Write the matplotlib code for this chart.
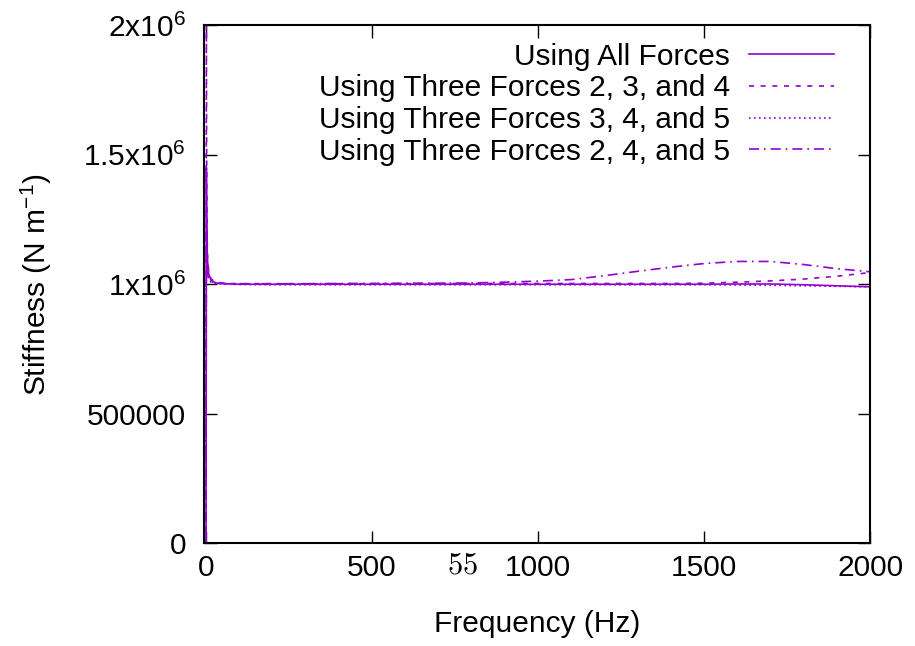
import matplotlib
matplotlib.use('Agg')
import matplotlib.pyplot as plt

plt.rcParams['font.family'] = ['Liberation Sans', 'DejaVu Sans']
plt.rcParams['mathtext.fontset'] = 'custom'
plt.rcParams['mathtext.rm'] = 'Liberation Sans'
plt.rcParams['mathtext.it'] = 'Liberation Sans'

# frequency samples (Hz)
freq = [0, 1, 2, 4, 8, 15, 30, 60, 100, 200, 300, 400, 500, 600, 700, 800,
        900, 1000, 1100, 1200, 1300, 1400, 1500, 1600, 1700, 1800, 1900, 2000]

# stiffness (N/m)
all_forces = [0, 1.45e6, 1.25e6, 1.10e6, 1.04e6, 1.015e6, 1.005e6, 1.002e6, 1.0e6,
              1.0e6, 1.0e6, 1.0e6, 1.0e6, 1.0e6, 1.0e6, 1.0e6, 1.0e6, 1.0e6, 1.0e6,
              1.0e6, 1.0e6, 1.0e6, 1.0e6, 1.001e6, 1.001e6, 0.998e6, 0.994e6, 0.99e6]
forces_234 = [0, 2.0e6, 1.4e6, 1.12e6, 1.05e6, 1.02e6, 1.008e6, 1.003e6, 1.002e6,
              1.002e6, 1.002e6, 1.002e6, 1.002e6, 1.002e6, 1.003e6, 1.003e6, 1.003e6,
              1.003e6, 1.003e6, 1.003e6, 1.003e6, 1.003e6, 1.004e6, 1.008e6, 1.013e6,
              1.02e6, 1.031e6, 1.045e6]
forces_345 = [0.2e6, 1.3e6, 1.15e6, 1.06e6, 1.02e6, 1.008e6, 1.002e6, 1.0e6, 0.999e6,
              0.998e6, 0.998e6, 0.998e6, 0.998e6, 0.998e6, 0.998e6, 0.998e6, 0.998e6,
              0.998e6, 0.998e6, 0.998e6, 0.998e6, 0.998e6, 0.998e6, 0.997e6, 0.996e6,
              0.994e6, 0.992e6, 0.99e6]
forces_245 = [0, 1.2e6, 1.1e6, 1.05e6, 1.02e6, 1.01e6, 1.004e6, 1.002e6, 1.002e6,
              1.002e6, 1.002e6, 1.003e6, 1.003e6, 1.004e6, 1.004e6, 1.005e6, 1.008e6,
              1.012e6, 1.018e6, 1.033e6, 1.05e6, 1.066e6, 1.08e6, 1.088e6, 1.088e6,
              1.076e6, 1.06e6, 1.048e6]

yticks = [0, 500000, 1e6, 1.5e6, 2e6]
ytick_labels = ['0', '500000', r'1x10$^6$', r'1.5x10$^6$', r'2x10$^6$']
xticks = [0, 500, 1000, 1500, 2000]

color = '#9400d3'
fs = 21.5

fig = plt.figure(figsize=(9.15, 6.46), dpi=100)
ax = fig.add_axes([0.223, 0.159, 0.728, 0.802])

ax.plot(freq, all_forces, color=color, lw=1.2, label='Using All Forces')
ax.plot(freq, forces_234, color=color, lw=1.2, dashes=(3, 4),
        label='Using Three Forces 2, 3, and 4')
ax.plot(freq, forces_345, color=color, lw=1.2, dashes=(1, 2),
        label='Using Three Forces 3, 4, and 5')
ax.plot(freq, forces_245, color=color, lw=1.2, dashes=(6, 3, 1, 3),
        label='Using Three Forces 2, 4, and 5')

ax.set_xlim(-6, 2000)
ax.set_ylim(0, 2e6)
ax.set_xticks(xticks)
ax.set_xticklabels([str(t) for t in xticks])
ax.set_yticks(yticks)
ax.set_yticklabels(ytick_labels)
ax.tick_params(direction='in', length=9, width=1, labelsize=fs,
               top=True, right=True)
ax.tick_params(axis='y', pad=13)
ax.tick_params(axis='x', pad=8)
for s in ax.spines.values():
    s.set_linewidth(1.5)

ax.set_xlabel('Frequency (Hz)', fontsize=fs, labelpad=20)
ax.set_ylabel(r'Stiffness (N m$^{-1}$)', fontsize=fs, labelpad=21)

ax.legend(loc='upper right', bbox_to_anchor=(0.946, 0.966), frameon=False,
          markerfirst=False, fontsize=fs, handlelength=2.85, labelspacing=0.12,
          handletextpad=0.65, borderaxespad=0, borderpad=0)

fig.text(0.506, 0.125, r'$55$', math_fontfamily='cm', fontsize=22,
         ha='center', va='center')

fig.savefig('out.png', dpi=100)
